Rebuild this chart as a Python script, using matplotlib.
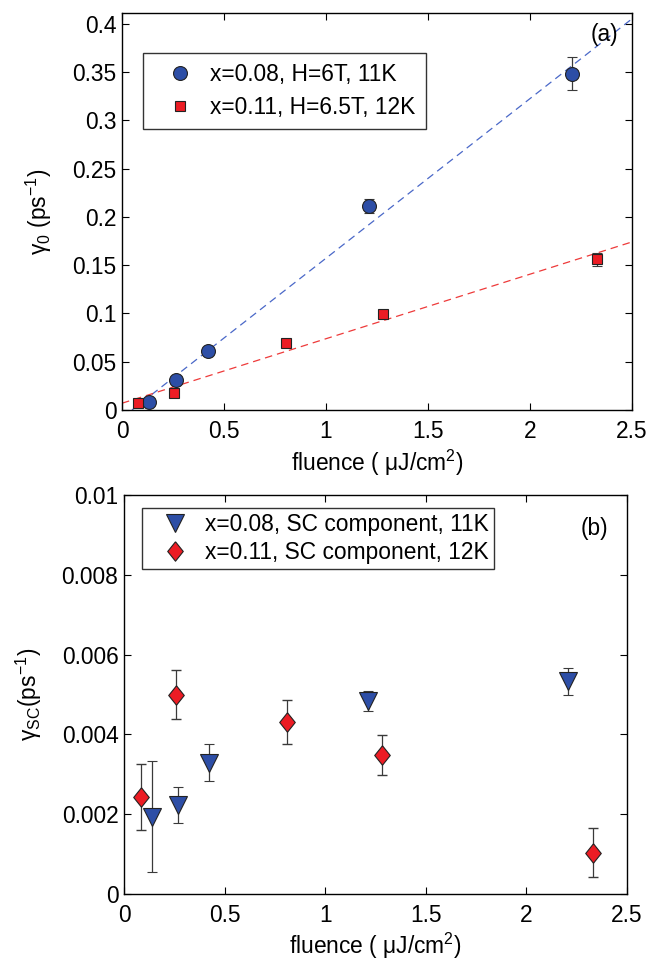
import matplotlib
matplotlib.use("Agg")
import matplotlib.pyplot as plt
from matplotlib.lines import Line2D

plt.rcParams['font.family'] = ['Liberation Sans', 'DejaVu Sans']
plt.rcParams['mathtext.fontset'] = 'custom'
plt.rcParams['mathtext.rm'] = 'Liberation Sans'
plt.rcParams['mathtext.it'] = 'Liberation Sans'
plt.rcParams['mathtext.default'] = 'regular'

# ---- panel (a) data ----
a_x1 = [0.131, 0.263, 0.420, 1.211, 2.208]
a_y1 = [0.0078, 0.031, 0.061, 0.211, 0.348]
a_e1 = [0.002, 0.002, 0.002, 0.007, 0.017]
a_x2 = [0.079, 0.254, 0.805, 1.280, 2.330]
a_y2 = [0.0068, 0.018, 0.0695, 0.0995, 0.156]
a_e2 = [0.001, 0.002, 0.002, 0.002, 0.007]
fit1_x = [0.049, 2.5]
fit1_y = [0.0, 0.405]
fit2_x = [0.0, 2.5]
fit2_y = [0.007, 0.174]
a_labels = ['x=0.08, H=6T, 11K', 'x=0.11, H=6.5T, 12K']
a_yticks = [0, 0.05, 0.1, 0.15, 0.2, 0.25, 0.3, 0.35, 0.4]
a_yticklabels = ['0', '0.05', '0.1', '0.15', '0.2', '0.25', '0.3', '0.35', '0.4']

# ---- panel (b) data ----
b_x1 = [0.137, 0.270, 0.421, 1.215, 2.207]
b_y1 = [0.00194, 0.00222, 0.00329, 0.00484, 0.00533]
b_e1 = [0.0014, 0.00045, 0.00047, 0.00025, 0.00033]
b_x2 = [0.0835, 0.258, 0.812, 1.283, 2.331]
b_y2 = [0.00244, 0.0050, 0.0043, 0.00348, 0.00104]
b_e2 = [0.00083, 0.00062, 0.00055, 0.0005, 0.00062]
b_labels = ['x=0.08, SC component, 11K', 'x=0.11, SC component, 12K']
b_yticks = [0, 0.002, 0.004, 0.006, 0.008, 0.01]
b_yticklabels = ['0', '0.002', '0.004', '0.006', '0.008', '0.01']

xticks = [0, 0.5, 1, 1.5, 2, 2.5]
xticklabels = ['0', '0.5', '1', '1.5', '2', '2.5']

BLUE = '#2d4ea6'
RED = '#ec1c24'
BLUE_L = '#4a68c8'
RED_L = '#ee3a3a'
ECOL = '#3a3a3a'
MEC = '#222222'
FS = 16.4

W, H = 663, 961
fig = plt.figure(figsize=(6.63, 9.61), dpi=100)
ax1 = fig.add_axes([122 / W, 1 - 410 / H, 510 / W, 397 / H])
ax2 = fig.add_axes([124 / W, 1 - 894 / H, 503 / W, 399 / H])

diamond = [(0, 1), (0.8, 0), (0, -1), (-0.8, 0), (0, 1)]

# panel a
ax1.plot(fit1_x, fit1_y, ls=(0, (6, 4)), color=BLUE_L, lw=0.9)
ax1.plot(fit2_x, fit2_y, ls=(0, (6, 4)), color=RED_L, lw=0.9)
ax1.errorbar(a_x1, a_y1, yerr=a_e1, fmt='o', ms=10, mfc=BLUE, mec=MEC, mew=0.8,
             ecolor=ECOL, elinewidth=0.9, capsize=3.9, zorder=3)
ax1.errorbar(a_x2, a_y2, yerr=a_e2, fmt='s', ms=7.7, mfc=RED, mec=MEC, mew=0.8,
             ecolor=ECOL, elinewidth=0.9, capsize=3.9, zorder=3)
ax1.set_xlim(0, 2.5)
ax1.set_ylim(0, 0.411)
ax1.set_yticks(a_yticks)
ax1.set_yticklabels(a_yticklabels)
ax1.set_ylabel(r'$\mathrm{\gamma}_0$ (ps$^{-1}$)', fontsize=FS, labelpad=13)
ax1.text(0.945, 0.947, '(a)', transform=ax1.transAxes, ha='center', va='center', fontsize=FS)
hA = [Line2D([], [], ls='none', marker='o', ms=10, mfc=BLUE, mec=MEC, mew=0.8),
      Line2D([], [], ls='none', marker='s', ms=7.7, mfc=RED, mec=MEC, mew=0.8)]
leg1 = ax1.legend(hA, a_labels, loc='upper left', bbox_to_anchor=(143 / W, 1 - 52.5 / H),
                  bbox_transform=fig.transFigure, fontsize=FS,
                  frameon=True, fancybox=False, edgecolor='black', borderpad=0.45,
                  handletextpad=0.15, labelspacing=0.45, handlelength=2.35, borderaxespad=0)
leg1.get_frame().set_linewidth(1.0)

# panel b
ax2.errorbar(b_x1, b_y1, yerr=b_e1, fmt='v', ms=13, mfc=BLUE, mec=MEC, mew=0.8,
             ecolor=ECOL, elinewidth=0.9, capsize=3.9, zorder=3)
ax2.errorbar(b_x2, b_y2, yerr=b_e2, fmt='none', ecolor=ECOL, elinewidth=0.9, capsize=3.9, zorder=2)
ax2.plot(b_x2, b_y2, ls='none', marker=diamond, ms=14, mfc=RED, mec=MEC, mew=0.8, zorder=3)
ax2.set_xlim(0, 2.5)
ax2.set_ylim(0, 0.01)
ax2.set_yticks(b_yticks)
ax2.set_yticklabels(b_yticklabels)
ax2.set_ylabel(r'$\mathrm{\gamma}_{SC}$(ps$^{-1}$)', fontsize=FS, labelpad=13)
ax2.text(0.936, 0.915, '(b)', transform=ax2.transAxes, ha='center', va='center', fontsize=FS)
hB = [Line2D([], [], ls='none', marker='v', ms=13, mfc=BLUE, mec=MEC, mew=0.8),
      Line2D([], [], ls='none', marker=diamond, ms=14, mfc=RED, mec=MEC, mew=0.8)]
leg2 = ax2.legend(hB, b_labels, loc='upper left', bbox_to_anchor=(142 / W, 1 - 508 / H),
                  bbox_transform=fig.transFigure, fontsize=FS,
                  frameon=True, fancybox=False, edgecolor='black', borderpad=0.22,
                  handletextpad=0.05, labelspacing=0.2, handlelength=2.5, borderaxespad=0)
leg2.get_frame().set_linewidth(1.0)

for ax in (ax1, ax2):
    ax.set_xticks(xticks)
    ax.set_xticklabels(xticklabels)
    ax.tick_params(direction='in', top=True, right=True, labelsize=FS, length=5, width=0.8)
    ax.tick_params(axis='x', pad=7)
    ax.tick_params(axis='y', pad=4)
    for s in ax.spines.values():
        s.set_linewidth(1.0)
ax1.set_xlabel(r'fluence ( $\mathrm{\mu}$J/cm$^{2}$)', fontsize=FS, labelpad=4)
ax2.set_xlabel(r'fluence ( $\mathrm{\mu}$J/cm$^{2}$)', fontsize=FS, labelpad=3)

fig.savefig('out.png', dpi=100)
